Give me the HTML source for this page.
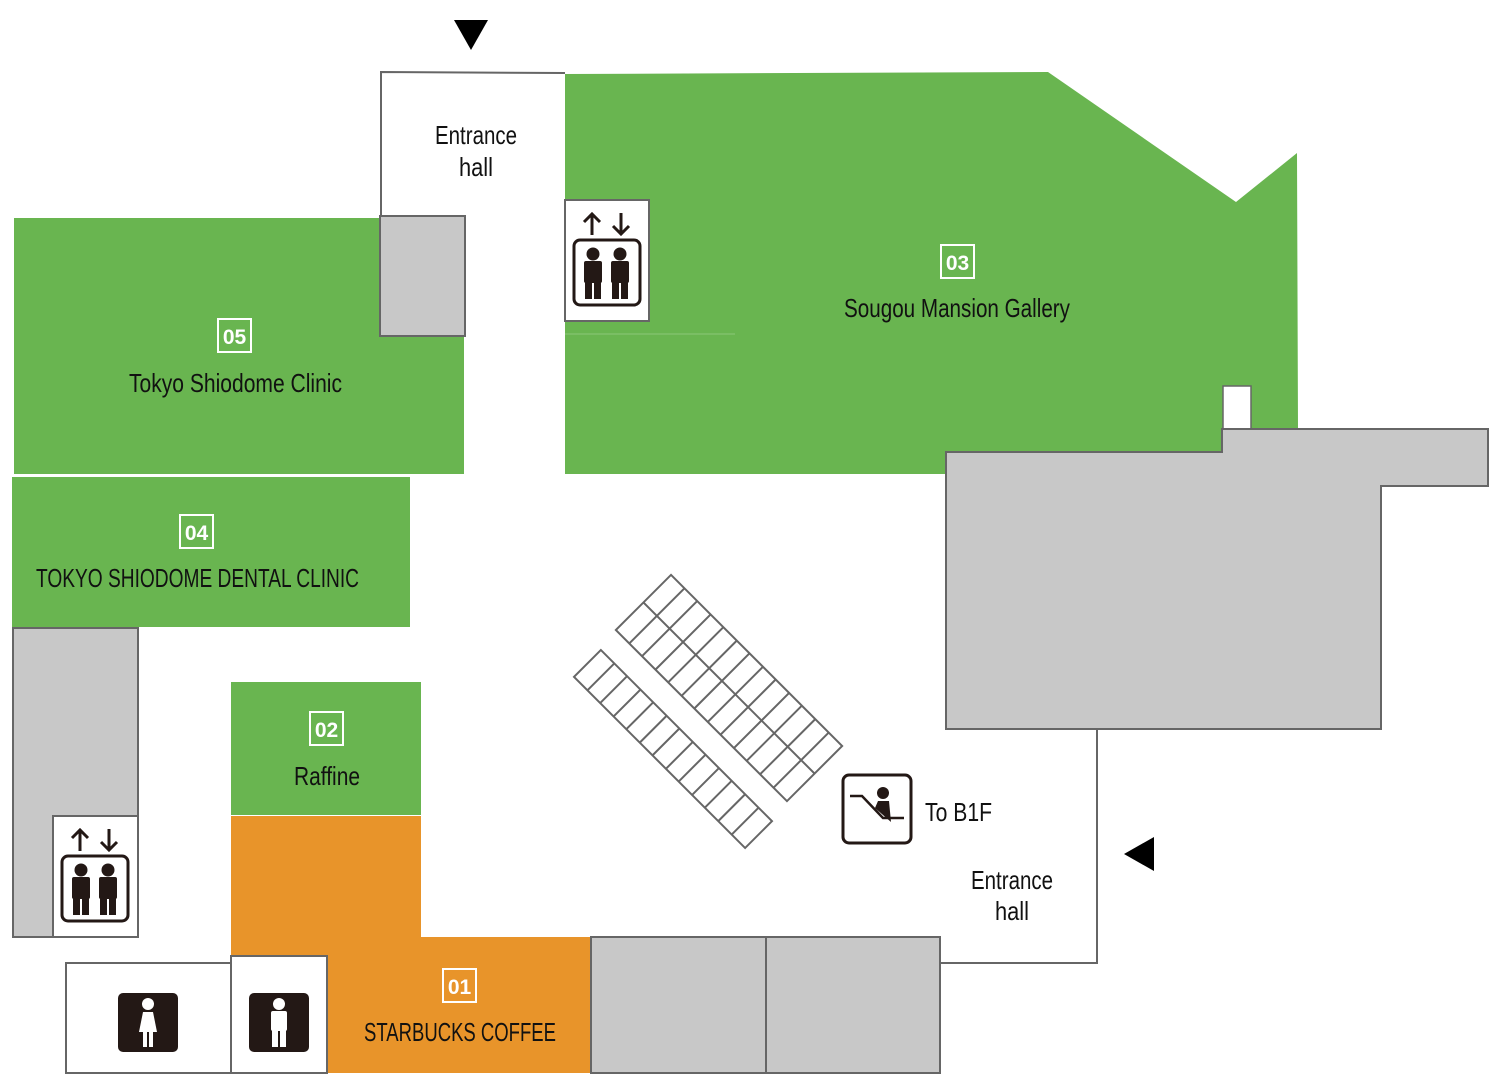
<!DOCTYPE html>
<html><head><meta charset="utf-8"><style>
html,body{margin:0;padding:0;background:#fff}
svg{display:block}
text{font-family:"Liberation Sans",sans-serif;fill:#111}
.n{fill:#fff;font-weight:bold;font-size:21px}
</style></head><body>
<svg width="1500" height="1084" viewBox="0 0 1500 1084" xmlns="http://www.w3.org/2000/svg">
<defs>
<g id="elev">
  <path d="M27 35 V15 M19 22 L27 14 L35 22" stroke="#231815" stroke-width="3" fill="none"/>
  <path d="M56 13 V33 M48 26 L56 34 L64 26" stroke="#231815" stroke-width="3" fill="none"/>
  <rect x="9" y="40" width="66" height="65" rx="6" fill="none" stroke="#231815" stroke-width="3"/>
  <circle cx="28" cy="54" r="6.5" fill="#231815"/>
  <rect x="19" y="61" width="18" height="22" rx="2" fill="#231815"/>
  <rect x="20" y="80" width="7" height="19" fill="#231815"/><rect x="29" y="80" width="7" height="19" fill="#231815"/>
  <circle cx="55" cy="54" r="6.5" fill="#231815"/>
  <rect x="46" y="61" width="18" height="22" rx="2" fill="#231815"/>
  <rect x="47" y="80" width="7" height="19" fill="#231815"/><rect x="56" y="80" width="7" height="19" fill="#231815"/>
</g>
</defs>
<path d="M381 216 V72 L565 73" fill="none" stroke="#666" stroke-width="2"/>
<polygon points="565,74 1048,72 1236,202 1297,153 1298,429 1222,429 1222,452 946,452 946,474 565,474" fill="#69b550"/>
<line x1="565" y1="334" x2="735" y2="334" stroke="#8cc878" stroke-width="1"/>
<rect x="1223" y="386" width="28" height="43" fill="#fff" stroke="#666" stroke-width="1.5"/>
<rect x="14" y="218" width="450" height="256" fill="#69b550"/>
<rect x="380" y="216" width="85" height="120" fill="#c8c8c8" stroke="#666" stroke-width="2"/>
<rect x="12" y="477" width="398" height="150" fill="#69b550"/>
<rect x="13" y="628" width="125" height="309" fill="#c8c8c8" stroke="#666" stroke-width="2"/>
<rect x="53" y="816" width="85" height="121" fill="#fff" stroke="#666" stroke-width="2"/>
<use href="#elev" x="53" y="816"/>
<rect x="565" y="200" width="84" height="121" fill="#fff" stroke="#666" stroke-width="2"/>
<use href="#elev" x="565" y="200"/>
<rect x="231" y="682" width="190" height="133" fill="#69b550"/>
<polygon points="231,816 421,816 421,937 591,937 591,1073 327,1073 327,956 231,956" fill="#e8942a"/>
<rect x="66" y="963" width="165" height="110" fill="#fff" stroke="#666" stroke-width="2"/>
<rect x="231" y="956" width="96" height="117" fill="#fff" stroke="#666" stroke-width="2"/>
<rect x="118" y="993" width="60" height="59" rx="5" fill="#231815"/>
<circle cx="148" cy="1004" r="6" fill="#fff"/><path d="M139 1032 L143 1012 H153 L157 1032 Z" fill="#fff"/><rect x="143" y="1030" width="4" height="17" fill="#fff"/><rect x="149" y="1030" width="4" height="17" fill="#fff"/>
<rect x="249" y="993" width="60" height="59" rx="5" fill="#231815"/>
<circle cx="279" cy="1004" r="6" fill="#fff"/><rect x="271" y="1011" width="16" height="20" rx="2" fill="#fff"/><rect x="272" y="1029" width="6" height="18" fill="#fff"/><rect x="280" y="1029" width="6" height="18" fill="#fff"/>
<rect x="591" y="937" width="175" height="136" fill="#c8c8c8" stroke="#666" stroke-width="2"/>
<rect x="766" y="937" width="174" height="136" fill="#c8c8c8" stroke="#666" stroke-width="2"/>
<path d="M940 963 H1097 V730" fill="none" stroke="#666" stroke-width="2"/>
<polygon points="946,452 1222,452 1222,429 1488,429 1488,486 1381,486 1381,729 946,729" fill="#c8c8c8" stroke="#666" stroke-width="2"/>
<polygon points="454,20 488,20 471,50" fill="#000"/>
<polygon points="1124,854 1154,837 1154,871" fill="#000"/>
<g transform="translate(673,749) rotate(45)" fill="none" stroke="#666" stroke-width="2">
  <rect x="-121" y="-19" width="242" height="38"/>
  <path d="M-102 -19V19 M-84 -19V19 M-65 -19V19 M-47 -19V19 M-28 -19V19 M-10 -19V19 M9 -19V19 M27 -19V19 M46 -19V19 M64 -19V19 M83 -19V19 M102 -19V19"/>
</g>
<g transform="translate(729,688) rotate(45)" fill="none" stroke="#666" stroke-width="2">
  <rect x="-121" y="-39" width="242" height="78"/>
  <path d="M-121 0H121"/>
  <path d="M-102 -39V39 M-84 -39V39 M-65 -39V39 M-47 -39V39 M-28 -39V39 M-10 -39V39 M9 -39V39 M27 -39V39 M46 -39V39 M64 -39V39 M83 -39V39 M102 -39V39"/>
</g>
<rect x="843" y="775" width="68" height="68" rx="6" fill="#fff" stroke="#231815" stroke-width="3"/>
<path d="M850 796 H862 L883 818 H904" fill="none" stroke="#231815" stroke-width="2.5"/>
<circle cx="883" cy="793" r="6" fill="#231815"/>
<path d="M875 808 L878 801 H889 L891 822 Z" fill="#231815"/>
<g fill="none" stroke="#fff" stroke-width="2">
<rect x="218" y="319" width="33" height="33"/>
<rect x="180" y="515" width="33" height="33"/>
<rect x="941" y="245" width="33" height="33"/>
<rect x="310" y="712" width="33" height="33"/>
<rect x="443" y="969" width="33" height="33"/>
</g>
<text class="n" x="234.5" y="344" text-anchor="middle">05</text>
<text class="n" x="196.5" y="540" text-anchor="middle">04</text>
<text class="n" x="957.5" y="270" text-anchor="middle">03</text>
<text class="n" x="326.5" y="737" text-anchor="middle">02</text>
<text class="n" x="459.5" y="994" text-anchor="middle">01</text>
<g font-size="26">
<text x="129" y="392" textLength="213" lengthAdjust="spacingAndGlyphs">Tokyo Shiodome Clinic</text>
<text x="36" y="587" textLength="323" lengthAdjust="spacingAndGlyphs">TOKYO SHIODOME DENTAL CLINIC</text>
<text x="844" y="317" textLength="226" lengthAdjust="spacingAndGlyphs">Sougou Mansion Gallery</text>
<text x="294" y="785" textLength="66" lengthAdjust="spacingAndGlyphs">Raffine</text>
<text x="364" y="1041" textLength="192" lengthAdjust="spacingAndGlyphs">STARBUCKS COFFEE</text>
<text x="435" y="144" textLength="82" lengthAdjust="spacingAndGlyphs">Entrance</text>
<text x="459" y="176" textLength="34" lengthAdjust="spacingAndGlyphs">hall</text>
<text x="925" y="821" textLength="67" lengthAdjust="spacingAndGlyphs">To B1F</text>
<text x="971" y="889" textLength="82" lengthAdjust="spacingAndGlyphs">Entrance</text>
<text x="995" y="920" textLength="34" lengthAdjust="spacingAndGlyphs">hall</text>
</g>
</svg>
</body></html>
